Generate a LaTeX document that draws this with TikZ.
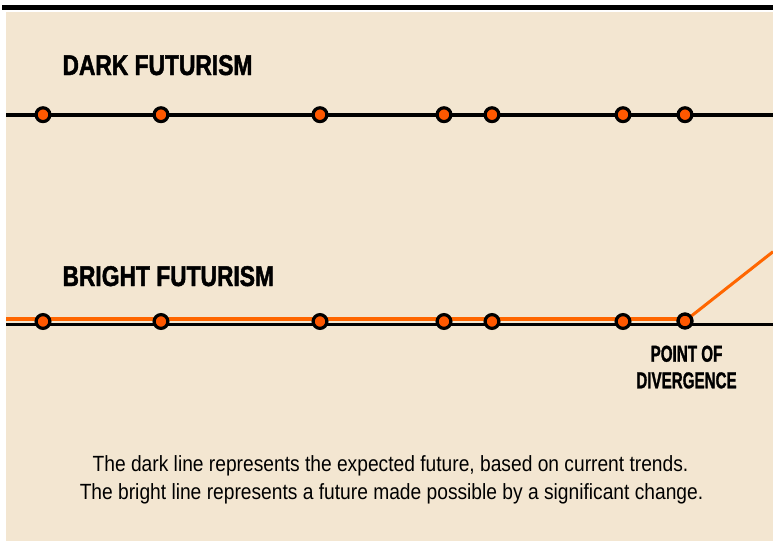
\documentclass[tikz,border=0pt]{standalone}
\usepackage{fontspec}
\setmainfont{Liberation Sans}
\newfontfamily\headfont{Liberation Sans Bold}[FakeStretch=0.80, FakeBold=1.6]
\newfontfamily\notefont{Liberation Sans Bold}[FakeStretch=0.66, FakeBold=1.2]
\newfontfamily\bodyfont{Liberation Sans}[FakeStretch=0.873]
\definecolor{paper}{RGB}{243,230,209}
\definecolor{ember}{RGB}{255,88,0}
\definecolor{flame}{RGB}{255,102,0}
\tikzset{
  every node/.style={inner sep=0pt, outer sep=0pt},
  event/.style={circle, draw=black, line width=3.2pt, fill=ember, minimum size=13.8pt},
  darkline/.style={line width=3.6pt, black},
  brightline/.style={line width=3.8pt, flame},
  branch/.style={line width=3pt, flame},
  heading/.style={font=\headfont\fontsize{28.5}{30}\selectfont, anchor=base west},
  notelabel/.style={font=\notefont\fontsize{23}{26.6}\selectfont, align=center},
  caption/.style={font=\bodyfont\fontsize{22}{28}\selectfont, anchor=base, align=center},
}
\begin{document}
\begin{tikzpicture}[x=1pt,y=-1pt]
  \useasboundingbox (0,0) rectangle (773,541);
  % frame: top rule and paper panel
  \fill[black] (2,5) rectangle (773,10);
  \fill[paper] (6,12) rectangle (773,541);

  % headings
  \node[heading] (darkhead) at (62.5,75) {DARK FUTURISM};
  \node[heading] (brighthead) at (62.5,286) {BRIGHT FUTURISM};

  % dark timeline
  \coordinate (dl) at (6,114.7);
  \coordinate (dr) at (773,114.7);
  \draw[darkline] (dl) -- (dr);
  \foreach \i/\x in {1/43,2/161,3/320,4/444,5/492,6/623,7/685}
    \node[event] (d\i) at (\x,114.7) {};

  % bright timeline: black trend line with the orange path above it
  \coordinate (bl) at (6,324.5);
  \coordinate (br) at (773,324.5);
  \coordinate (ol) at (6,319.3);
  \coordinate (oe) at (685,319.3);
  \coordinate (up) at (773,251.7);
  \draw[darkline, line width=3pt] (bl) -- (br);
  \draw[brightline] (ol) -- (oe);
  \foreach \i/\x in {1/43,2/161,3/320,4/444,5/492,6/623}
    \node[event] (b\i) at (\x,321.5) {};
  \node[event] (b7) at (685,321) {};
  \draw[branch] (b7.center) -- (up);
  \node[event] at (b7) {};

  % divergence label
  \node[notelabel, anchor=base] (pointof) at (686.5,361.7) {POINT OF};
  \node[notelabel, anchor=base] (divergence) at (686.5,388.3) {DIVERGENCE};

  % caption
  \node[caption] (cap1) at (390.5,471.5) {The dark line represents the expected future, based on current trends.};
  \node[caption] (cap2) at (391.5,499) {The bright line represents a future made possible by a significant change.};
\end{tikzpicture}
\end{document}
